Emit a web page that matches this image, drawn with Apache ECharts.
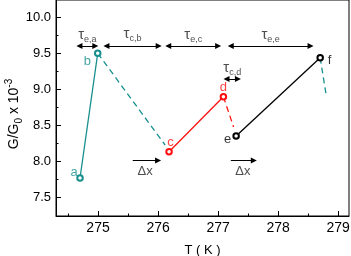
<!DOCTYPE html>
<html>
<head>
<meta charset="utf-8">
<script src="https://cdn.jsdelivr.net/npm/echarts@6/dist/echarts.min.js"></script>
<style>
html,body{margin:0;padding:0;background:#fff;}
#chart{width:351px;height:256px;}
</style>
</head>
<body>
<div id="chart"></div>
<script>
// ---- data ----
const xMin = 274.3, xMax = 279.18, yMin = 7.24, yMax = 10.24;
const xMajorTicks = [275, 276, 277, 278, 279];
const xMinorTicks = [274.5, 275.5, 276.5, 277.5, 278.5];
const yMajorTicks = [7.5, 8.0, 8.5, 9.0, 9.5, 10.0];
const yMinorTicks = [7.75, 8.25, 8.75, 9.25, 9.75];

const pointNames = ['a', 'b', 'c', 'd', 'e', 'f'];
const pointT = [274.70, 274.995, 276.183, 277.088, 277.30, 278.70];
const pointG = [7.768, 9.50, 8.133, 8.897, 8.351, 9.439];
// dashed continuations after b, d, f
const dashEndT = [276.117, 277.258, 278.795];
const dashEndG = [8.226, 8.476, 8.944];
// point labels
const labelT = [274.60, 274.822, 276.208, 277.088, 277.158, 278.855];
const labelG = [7.851, 9.383, 8.268, 9.027, 8.305, 9.407];

// tau interval arrows
const tauNames = ['e,a', 'c,b', 'e,c', 'c,d', 'e,e'];
const tauStart = [274.69, 275.14, 276.17, 277.14, 277.21];
const tauEnd = [274.955, 276.01, 277.0, 277.33, 278.54];
const tauArrowG = [9.601, 9.601, 9.601, 9.143, 9.601];
const tauLabelG = [9.76, 9.77, 9.755, 9.30, 9.75];

// delta-x arrows
const dxStart = [275.578, 277.212];
const dxEnd = [276.0, 277.595];
const dxG = 8.01;
const dxLabelT = [275.783, 277.412];
const dxLabelG = 7.86;

// axis titles
const xTitle = 'T ( K )';
const yTitle = '{m|G/G}{s|0}{m| x 10}{p|-3}';

// ---- styles ----
const TEAL = '#178f8f', RED = '#ff1010', BLACK = '#000';
const segColors = [TEAL, RED, BLACK];
const labelColors = [TEAL, TEAL, RED, RED, BLACK, BLACK];
const FONT = '"Liberation Sans", Arial, sans-serif';
const TRI = 'path://M0,-5L4,5L-4,5Z';

const series = [];
// dashed lines first
for (let i = 0; i < 3; i++) {
  const s = 2 * i + 1;
  series.push({
    type: 'line', silent: true, symbol: 'none', z: 2,
    data: [[pointT[s], pointG[s]], [dashEndT[i], dashEndG[i]]],
    lineStyle: {color: segColors[i === 2 ? 0 : i], width: 1.3, type: [6, 4]}
  });
}
// solid segments a-b, c-d, e-f
for (let i = 0; i < 3; i++) {
  series.push({
    type: 'line', silent: true, z: 3,
    symbol: 'emptyCircle', symbolSize: 5.5, showSymbol: true,
    data: [[pointT[2 * i], pointG[2 * i]], [pointT[2 * i + 1], pointG[2 * i + 1]]],
    lineStyle: {color: segColors[i], width: 1.3},
    itemStyle: {color: segColors[i], borderWidth: 1.3}
  });
}
// point labels
series.push({
  type: 'scatter', silent: true, symbolSize: 0, z: 4,
  data: pointNames.map((n, k) => ({
    value: [labelT[k], labelG[k]],
    label: {show: true, position: 'inside', formatter: n, color: labelColors[k],
      fontSize: 13, fontFamily: FONT}
  }))
});
// tau labels + arrows
series.push({
  type: 'scatter', silent: true, symbolSize: 0, z: 4,
  data: tauNames.map((n, k) => ({
    value: [(tauStart[k] + tauEnd[k]) / 2, tauLabelG[k]],
    label: {show: true, position: 'inside', formatter: '{t|τ}{s|' + n + '}', color: '#222',
      rich: {
        t: {fontSize: 15, fontFamily: FONT, color: '#222', lineHeight: 18, verticalAlign: 'middle'},
        s: {fontSize: 9, fontFamily: FONT, color: '#222', lineHeight: 9, verticalAlign: 'bottom'}
      }}
  })),
  markLine: {
    silent: true, animation: false,
    symbol: [TRI, TRI], symbolSize: 6,
    label: {show: false},
    lineStyle: {color: '#000', width: 1, type: 'solid'},
    data: tauNames.map((n, k) => [
      {coord: [tauStart[k], tauArrowG[k]]},
      {coord: [tauEnd[k], tauArrowG[k]]}
    ])
  }
});
// delta-x labels + arrows
series.push({
  type: 'scatter', silent: true, symbolSize: 0, z: 4,
  data: dxLabelT.map(t => ({
    value: [t, dxLabelG],
    label: {show: true, position: 'inside', formatter: 'Δx', color: '#222', fontSize: 13, fontFamily: FONT}
  })),
  markLine: {
    silent: true, animation: false,
    symbol: ['none', TRI], symbolSize: 6,
    label: {show: false},
    lineStyle: {color: '#000', width: 1, type: 'solid'},
    data: dxStart.map((s, k) => [
      {coord: [s, dxG]},
      {coord: [dxEnd[k], dxG]}
    ])
  }
});

const chart = echarts.init(document.getElementById('chart'), null, {renderer: 'canvas'});
chart.setOption({
  animation: false,
  backgroundColor: '#fff',
  grid: {left: 56, right: 2, top: 0, bottom: 40, containLabel: false, outerBoundsMode: 'none',
    show: true, borderColor: '#000', borderWidth: 1, backgroundColor: 'transparent'},
  graphic: [{
    type: 'text', x: 14, y: 114, rotation: Math.PI / 2, silent: true,
    style: {
      text: yTitle, align: 'center', verticalAlign: 'middle', fill: '#000',
      font: '14px ' + FONT,
      rich: {
        m: {fontSize: 14, fontFamily: FONT, fill: '#000', lineHeight: 20, verticalAlign: 'middle'},
        s: {fontSize: 10, fontFamily: FONT, fill: '#000', lineHeight: 10, verticalAlign: 'bottom'},
        p: {fontSize: 10, fontFamily: FONT, fill: '#000', lineHeight: 10, verticalAlign: 'top'}
      }
    }
  }],
  xAxis: [
    {
      type: 'value', min: xMin, max: xMax, position: 'bottom',
      name: xTitle, nameLocation: 'middle', nameGap: 28,
      nameTextStyle: {fontSize: 13, fontFamily: FONT, color: '#000'},
      axisLine: {onZero: false, lineStyle: {color: '#000', width: 1}},
      axisTick: {inside: true, length: 5, customValues: xMajorTicks, lineStyle: {color: '#000'}},
      axisLabel: {customValues: xMajorTicks, fontSize: 14, fontFamily: FONT, color: '#000', margin: 5, formatter: v => String(Math.round(v))},
      splitLine: {show: false}
    },
    {
      type: 'value', min: xMin, max: xMax, position: 'bottom',
      axisLine: {show: false, onZero: false},
      axisTick: {inside: true, length: 2.5, customValues: xMinorTicks, lineStyle: {color: '#000'}},
      axisLabel: {show: false},
      splitLine: {show: false}
    }
  ],
  yAxis: [
    {
      type: 'value', min: yMin, max: yMax, position: 'left',
      axisLine: {onZero: false, lineStyle: {color: '#000', width: 1}},
      axisTick: {inside: true, length: 5, customValues: yMajorTicks, lineStyle: {color: '#000'}},
      axisLabel: {customValues: yMajorTicks, fontSize: 13, fontFamily: FONT, color: '#000', margin: 5, formatter: v => v.toFixed(1)},
      splitLine: {show: false}
    },
    {
      type: 'value', min: yMin, max: yMax, position: 'left',
      axisLine: {show: false, onZero: false},
      axisTick: {inside: true, length: 2.5, customValues: yMinorTicks, lineStyle: {color: '#000'}},
      axisLabel: {show: false},
      splitLine: {show: false}
    }
  ],
  series: series
});
</script>
</body>
</html>
